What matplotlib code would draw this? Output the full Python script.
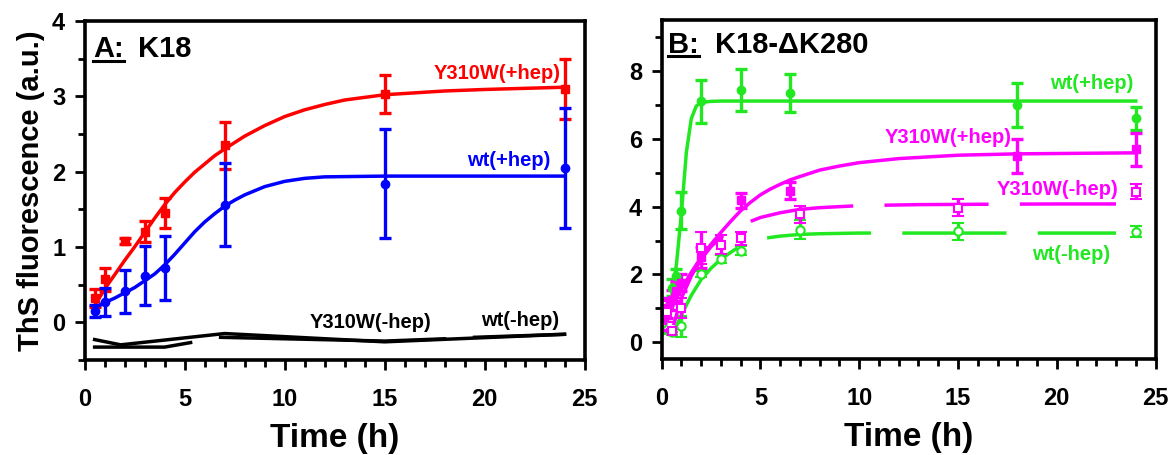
import matplotlib
matplotlib.use("Agg")
import matplotlib.pyplot as plt
from matplotlib.lines import Line2D
import numpy as np

plt.rcParams['font.family'] = ['Liberation Sans', 'DejaVu Sans']
plt.rcParams['font.weight'] = 'bold'

RED = '#ff0000'
BLUE = '#0000ff'
GREEN = '#22e822'
MAG = '#ff00ff'

# ---- Panel A: K18 ----
a_y310w_t = [0.5, 1, 2, 3, 4, 7, 15, 24]
a_y310w_y = [0.32, 0.57, 1.08, 1.20, 1.45, 2.35, 3.03, 3.10]
a_y310w_e = [0.12, 0.15, 0.04, 0.14, 0.20, 0.31, 0.25, 0.40]
a_y310w_fit_t = [0.5, 1, 1.5, 2, 2.5, 3, 3.5, 4, 4.5, 5, 5.5, 6, 6.5, 7, 8, 9, 10, 11, 12, 13, 15, 18, 20, 24]
a_y310w_fit_y = [0.22, 0.44, 0.63, 0.82, 1.00, 1.19, 1.38, 1.56, 1.72, 1.86, 1.99, 2.10, 2.21, 2.30, 2.47, 2.61, 2.73,
                 2.82, 2.89, 2.95, 3.02, 3.07, 3.09, 3.12]

a_wt_t = [0.5, 1, 2, 3, 4, 7, 15, 24]
a_wt_y = [0.15, 0.27, 0.41, 0.62, 0.72, 1.56, 1.84, 2.05]
a_wt_e = [0.08, 0.19, 0.29, 0.39, 0.42, 0.55, 0.72, 0.80]
a_wt_fit_t = [0.5, 1, 1.5, 2, 2.5, 3, 3.5, 4, 4.5, 5, 5.5, 6, 6.5, 7, 7.5, 8, 9, 10, 11, 12, 15, 24]
a_wt_fit_y = [0.20, 0.26, 0.32, 0.39, 0.46, 0.55, 0.64, 0.76, 0.90, 1.05, 1.20, 1.33, 1.44, 1.54, 1.62, 1.69, 1.80, 1.87,
              1.91, 1.93, 1.94, 1.94]

# no-heparin controls (black lines)
a_y310w_nh_t = [0.5, 1.8, 7, 15, 24]
a_y310w_nh_y = [-0.23, -0.30, -0.15, -0.26, -0.16]
a_wt_nh_t = [0.5, 4, 5.3, np.nan, 6.8, 15, 18, np.nan, 19.5, 24]
a_wt_nh_y = [-0.33, -0.33, -0.27, np.nan, -0.20, -0.25, -0.22, np.nan, -0.20, -0.16]

# ---- Panel B: K18-dK280 ----
b_wt_t = [0, 0.25, 0.5, 0.75, 1, 2, 4, 6.5, 18, 24]
b_wt_y = [0.60, 1.00, 1.60, 1.95, 3.88, 7.11, 7.44, 7.36, 6.99, 6.61]
b_wt_e = [0.30, 0.30, 0.25, 0.20, 0.55, 0.64, 0.62, 0.56, 0.65, 0.34]
b_wt_fit_t = [0, 0.25, 0.5, 0.75, 1, 1.25, 1.5, 1.75, 2, 2.5, 3, 24]
b_wt_fit_y = [0.55, 0.80, 1.30, 2.30, 3.80, 5.60, 6.60, 6.97, 7.08, 7.11, 7.12, 7.12]

b_y310w_t = [0, 0.25, 0.5, 0.75, 1, 2, 4, 6.5, 18, 24]
b_y310w_y = [0.65, 1.00, 1.25, 1.50, 1.75, 2.50, 4.19, 4.47, 5.50, 5.69]
b_y310w_e = [0.30, 0.30, 0.30, 0.30, 0.25, 0.30, 0.22, 0.25, 0.50, 0.50]
b_y310w_fit_t = [0, 0.25, 0.5, 1, 1.5, 2, 2.5, 3, 3.5, 4, 4.5, 5, 5.5, 6, 6.5, 7, 8, 9, 10, 12, 15, 18, 24]
b_y310w_fit_y = [0.60, 0.80, 1.00, 1.57, 2.06, 2.50, 2.89, 3.24, 3.57, 3.88, 4.13, 4.35, 4.52, 4.66, 4.79, 4.89, 5.08,
                 5.20, 5.30, 5.42, 5.52, 5.56, 5.59]

b_y310w_nh_t = [0.25, 0.5, 1, 2, 3, 4, 7, 15, 24]
b_y310w_nh_y = [0.90, 0.34, 1.00, 2.77, 2.88, 3.06, 3.78, 3.97, 4.44]
b_y310w_nh_e = [0.30, 0.05, 0.30, 0.47, 0.29, 0.20, 0.25, 0.26, 0.22]
b_y310w_nh_fit_t = [0.6, 1, 1.5, 2, 2.5, 3, 4, 5, 6, 7, 8, 10, 13, 16, 20, 23]
b_y310w_nh_fit_y = [0.50, 1.30, 1.95, 2.45, 2.82, 3.10, 3.45, 3.68, 3.82, 3.92, 3.97, 4.03, 4.06, 4.07, 4.08, 4.08]

b_wt_nh_t = [0, 0.5, 1, 2, 3, 4, 7, 15, 24]
b_wt_nh_y = [0.55, 0.30, 0.46, 2.01, 2.45, 2.70, 3.32, 3.27, 3.26]
b_wt_nh_e = [0.30, 0.10, 0.30, 0.10, 0.12, 0.13, 0.28, 0.26, 0.17]
b_wt_nh_fit_t = [0.7, 1, 1.5, 2, 2.5, 3, 4, 5, 6, 7, 8, 10, 13, 16, 20, 23]
b_wt_nh_fit_y = [0.40, 0.80, 1.38, 1.85, 2.18, 2.45, 2.85, 3.05, 3.13, 3.18, 3.20, 3.22, 3.22, 3.22, 3.22, 3.22]

fig = plt.figure(figsize=(11.69, 4.55), dpi=100)
axA = fig.add_axes([0.0724, 0.209, 0.4276, 0.745])
axB = fig.add_axes([0.566, 0.211, 0.4225, 0.744])

ebkw = dict(linestyle='none', elinewidth=2.4, capsize=4, capthick=2.4)

# panel A
axA.plot(a_y310w_fit_t, a_y310w_fit_y, color=RED, lw=2.5)
axA.errorbar(a_y310w_t, a_y310w_y, yerr=a_y310w_e, color=RED, marker='s', ms=6, **ebkw)
axA.plot(a_wt_fit_t, a_wt_fit_y, color=BLUE, lw=2.5)
axA.errorbar(a_wt_t, a_wt_y, yerr=a_wt_e, color=BLUE, marker='o', ms=6, **ebkw)
axA.plot(a_y310w_nh_t, a_y310w_nh_y, color='black', lw=2.5)
axA.plot(a_wt_nh_t, a_wt_nh_y, color='black', lw=2.5)

axA.text(23.8, 3.3, 'Y310W(+hep)', color=RED, fontsize=14.5, ha='right', va='center')
axA.text(23.3, 2.15, 'wt(+hep)', color=BLUE, fontsize=14.5, ha='right', va='center')
axA.text(14.3, 0.0, 'Y310W(-hep)', color='black', fontsize=14.5, ha='center', va='center')
axA.text(21.8, 0.02, 'wt(-hep)', color='black', fontsize=14.5, ha='center', va='center')

axA.set_xlim(0, 25)
axA.set_ylim(-0.5, 4)
axA.set_xticks([0, 5, 10, 15, 20, 25])
axA.set_xticks(np.arange(0, 25, 1), minor=True)
axA.set_yticks([0, 1, 2, 3, 4])
axA.set_yticks([-0.5, 0.5, 1.5, 2.5, 3.5], minor=True)
axA.set_ylabel('ThS fluorescence (a.u.)', fontsize=21, fontweight='bold', labelpad=5)

# panel B
dash = (30, 9)
axB.plot(b_wt_fit_t, b_wt_fit_y, color=GREEN, lw=2.5)
axB.errorbar(b_wt_t, b_wt_y, yerr=b_wt_e, color=GREEN, marker='o', ms=6, **ebkw)
axB.plot(b_wt_nh_fit_t, b_wt_nh_fit_y, color=GREEN, lw=2.5, dashes=dash)
axB.errorbar(b_wt_nh_t, b_wt_nh_y, yerr=b_wt_nh_e, color=GREEN, marker='o', ms=6,
             mfc='white', mew=1.5, **ebkw)
axB.plot(b_y310w_fit_t, b_y310w_fit_y, color=MAG, lw=2.5)
axB.errorbar(b_y310w_t, b_y310w_y, yerr=b_y310w_e, color=MAG, marker='s', ms=6, **ebkw)
axB.plot(b_y310w_nh_fit_t, b_y310w_nh_fit_y, color=MAG, lw=2.5, dashes=dash)
axB.errorbar(b_y310w_nh_t, b_y310w_nh_y, yerr=b_y310w_nh_e, color=MAG, marker='s', ms=6,
             mfc='white', mew=1.5, **ebkw)

axB.text(23.9, 7.65, 'wt(+hep)', color=GREEN, fontsize=14.5, ha='right', va='center')
axB.text(17.7, 6.05, 'Y310W(+hep)', color=MAG, fontsize=14.5, ha='right', va='center')
axB.text(23.1, 4.5, 'Y310W(-hep)', color=MAG, fontsize=14.5, ha='right', va='center')
axB.text(22.7, 2.6, 'wt(-hep)', color=GREEN, fontsize=14.5, ha='right', va='center')

axB.set_xlim(0, 25)
axB.set_ylim(-0.5, 9.5)
axB.set_xticks([0, 5, 10, 15, 20, 25])
axB.set_xticks(np.arange(0, 25, 1), minor=True)
axB.set_yticks([0, 2, 4, 6, 8])
axB.set_yticks([1, 3, 5, 7, 9], minor=True)

for ax in (axA, axB):
    for sp in ax.spines.values():
        sp.set_linewidth(2.6)
    ax.tick_params(which='major', direction='out', length=7, width=2, labelsize=17, pad=7)
    ax.tick_params(axis='x', which='major', pad=13)
    ax.tick_params(which='minor', direction='out', length=5, width=2)
    for lab in ax.get_xticklabels() + ax.get_yticklabels():
        lab.set_fontweight('bold')
    ax.set_xlabel('Time (h)', fontsize=24, fontweight='bold', labelpad=9)

# panel titles
tA1 = axA.text(0.017, 0.893, 'A:', transform=axA.transAxes, fontsize=21, ha='left', va='baseline')
axA.text(0.107, 0.893, 'K18', transform=axA.transAxes, fontsize=21, ha='left', va='baseline')
tB1 = axB.text(0.013, 0.905, 'B:', transform=axB.transAxes, fontsize=21, ha='left', va='baseline')
axB.text(0.107, 0.905, 'K18-\u0394K280', transform=axB.transAxes, fontsize=21, ha='left', va='baseline')

fig.canvas.draw()
inv = fig.transFigure.inverted()
for t in (tA1, tB1):
    bb = t.get_window_extent()
    (x0, y0), (x1, y1) = inv.transform([[bb.x0, bb.y0], [bb.x1, bb.y1]])
    yl = y0 + (y1 - y0) * 0.08
    fig.add_artist(Line2D([x0, x1], [yl, yl], color='black', lw=2.2, transform=fig.transFigure))

fig.savefig('out.png', dpi=100)
